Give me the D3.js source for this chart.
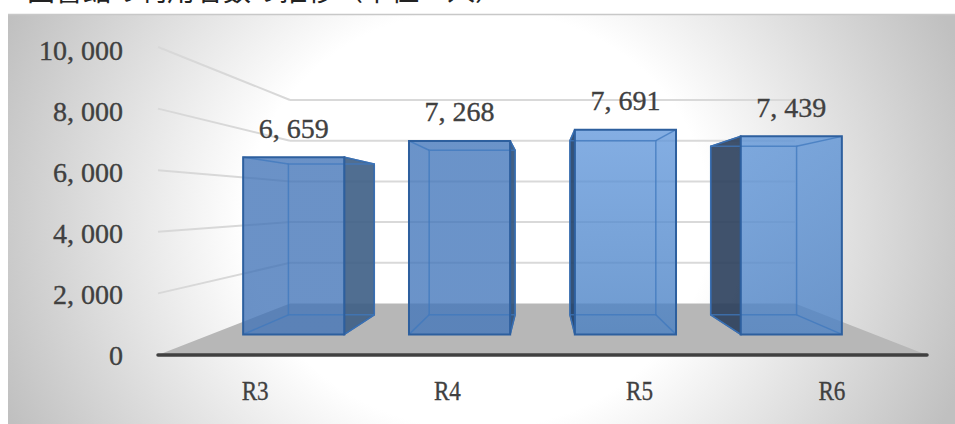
<!DOCTYPE html>
<html lang="ja">
<head>
<meta charset="UTF-8">
<title>利用者数の推移</title>
<style>
    html, body { margin: 0; padding: 0; background: #fff; }
    svg { display: block; }
    text { fill: #404040; stroke: #404040; stroke-width: 0.35px; font-family: "Liberation Serif", serif; font-size: 28px; }
    .title { font-family: "Noto Sans CJK JP", sans-serif; font-size: 28px; fill: #222; stroke: none; }
    .domain, .tick line { display: none; }
</style>
<script src="https://d3js.org/d3.v7.min.js"></script>
</head>
<body>
<svg width="955" height="424"></svg>
<script>
// data
const categories = ["R3", "R4", "R5", "R6"];
const values = [6659, 7268, 7691, 7439];
const yTicks = [0, 2000, 4000, 6000, 8000, 10000];

// bar colours, one per category
const faceTop = ["#4173b7", "#4175ba", "#6197db", "#5b92d6"];
const faceBottom = ["#4173b7", "#4175ba", "#467ec2", "#4a80c4"];
const sideColors = ["#3d5e85", "#2f5078", "#1f3f68", "#2b3f5c"];

const width = 955, height = 424;
const svg = d3.select("svg");
const defs = svg.append("defs");

// panel background
const bg = defs.append("radialGradient")
    .attr("id", "panel")
    .attr("gradientUnits", "userSpaceOnUse")
    .attr("cx", 0).attr("cy", 0).attr("r", 1)
    .attr("gradientTransform", "translate(478,219) scale(517,466)");
bg.append("stop").attr("offset", 0).attr("stop-color", "#fff");
bg.append("stop").attr("offset", 0.45).attr("stop-color", "#fff");
bg.append("stop").attr("offset", 1).attr("stop-color", "#c0c0c0");

svg.append("rect")
    .attr("x", 8).attr("y", 14).attr("width", width - 8).attr("height", height - 14)
    .attr("fill", "url(#panel)");
svg.append("line")
    .attr("x1", 8).attr("x2", width).attr("y1", 14.5).attr("y2", 14.5)
    .attr("stroke", "#c8c8c8").attr("stroke-width", 1.5);

// the reference crops this title at the top edge
svg.append("text").attr("class", "title")
    .attr("x", 27).attr("y", 1)
    .text("図書館の利用者数の推移（単位：人）");

// the 3d box: u across, value up, t from front plane (0) to back wall (1)
const uFront = d3.scaleLinear([0, 1], [158, 927]);
const uBack = d3.scaleLinear([0, 1], [290, 795]);
const yFront = d3.scaleLinear([0, 10000], [355, 47]);
const yBack = d3.scaleLinear([0, 10000], [303.5, 100]);

const project = (u, v, t) => [
    d3.interpolateNumber(uFront(u), uBack(u))(t),
    d3.interpolateNumber(yFront(v), yBack(v))(t)
];
const poly = pts => d3.line()(pts) + "Z";

const band = d3.scaleBand().domain(categories).range([0, 1])
    .paddingInner(0.39).paddingOuter(0.195);
const tFront = 0.4, tBack = 0.78;

// floor
svg.append("path")
    .attr("d", poly([project(0, 0, 0), project(0, 0, 1), project(1, 0, 1), project(1, 0, 0)]))
    .attr("fill", "#b7b7b7");

// gridlines, side wall and back wall
const grid = svg.append("g").attr("fill", "none").attr("stroke-width", 2);
yTicks.filter(d => d > 0).forEach(d => {
    grid.append("path")
        .attr("d", d3.line()([project(0, d, 0), project(0, d, 1)]))
        .attr("stroke", "#d8d8d8");
    grid.append("path")
        .attr("d", d3.line()([project(0, d, 1), project(1, d, 1)]))
        .attr("stroke", "#d9d9d9");
});

// front axis line
svg.append("path")
    .attr("d", d3.line()([project(0, 0, 0), project(1, 0, 0)]))
    .attr("stroke", "#404040").attr("stroke-width", 3.5)
    .attr("stroke-linecap", "round");

// bars
categories.forEach((c, i) => {
    const v = values[i];
    const u0 = band(c), u1 = u0 + band.bandwidth();
    const outerU = (u0 + u1) / 2 < 0.5 ? u1 : u0;
    const g = svg.append("g");

    const grad = defs.append("linearGradient")
        .attr("id", "face" + i).attr("x1", 0).attr("y1", 0).attr("x2", 0).attr("y2", 1);
    grad.append("stop").attr("offset", 0).attr("stop-color", faceTop[i]);
    grad.append("stop").attr("offset", 1).attr("stop-color", faceBottom[i]);

    // dark outer side
    g.append("path")
        .attr("d", poly([project(outerU, 0, tFront), project(outerU, v, tFront),
                         project(outerU, v, tBack), project(outerU, 0, tBack)]))
        .attr("fill", sideColors[i]).attr("fill-opacity", 0.9)
        .attr("stroke", "#2d5a96").attr("stroke-width", 1.5);

    // front face
    g.append("path")
        .attr("d", poly([project(u0, 0, tFront), project(u0, v, tFront),
                         project(u1, v, tFront), project(u1, 0, tFront)]))
        .attr("fill", `url(#face${i})`).attr("fill-opacity", 0.78);

    // back edges seen through the front
    const inner = g.append("g").attr("fill", "none")
        .attr("stroke", "#3f78bd").attr("stroke-opacity", 0.75).attr("stroke-width", 1.5);
    inner.append("path").attr("d", poly([project(u0, 0, tBack), project(u0, v, tBack),
                                         project(u1, v, tBack), project(u1, 0, tBack)]));
    [u0, u1].forEach(u => {
        inner.append("path").attr("d", d3.line()([project(u, 0, tFront), project(u, 0, tBack)]));
        inner.append("path").attr("d", d3.line()([project(u, v, tFront), project(u, v, tBack)]));
    });

    // front outline
    g.append("path")
        .attr("d", poly([project(u0, 0, tFront), project(u0, v, tFront),
                         project(u1, v, tFront), project(u1, 0, tFront)]))
        .attr("fill", "none").attr("stroke", "#2d5f9e").attr("stroke-width", 2);

    // value label over the front face
    const top = project((u0 + u1) / 2, v, tFront);
    svg.append("text")
        .attr("x", top[0]).attr("y", top[1] - 29).attr("dy", "0.34em")
        .attr("text-anchor", "middle")
        .text(d3.format(",")(v).replace(",", ", "));
});

// axes, used for the labels only
const yAxisScale = d3.scaleLinear([0, 10000], [355, 50]);
svg.append("g").attr("transform", "translate(129,0)")
    .call(d3.axisLeft(yAxisScale).tickValues(yTicks).tickSize(0).tickPadding(6)
        .tickFormat(d => d3.format(",")(d).replace(",", ", ")))
    .call(g => g.selectAll("text").attr("dy", "0.34em"));

const xAxisScale = d3.scaleBand().domain(categories).range([158, 927]);
svg.append("g").attr("transform", "translate(1,400)")
    .call(d3.axisBottom(xAxisScale).tickSize(0).tickPadding(0))
    .call(g => g.selectAll("text").attr("y", 0).attr("dy", 0)
        .attr("textLength", 27).attr("lengthAdjust", "spacingAndGlyphs"));
</script>
</body>
</html>
